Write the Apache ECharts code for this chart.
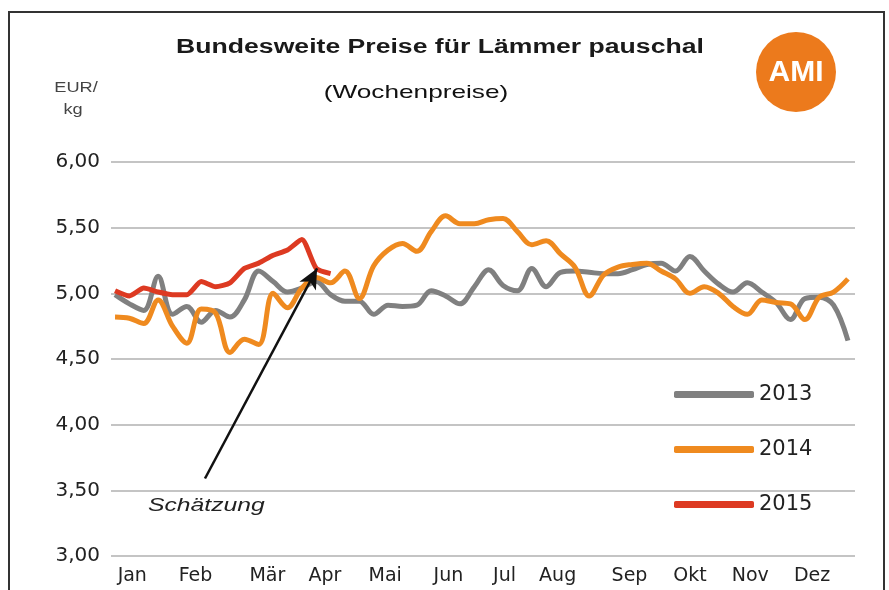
<!DOCTYPE html>
<html>
<head>
<meta charset="utf-8">
<script src="https://cdn.jsdelivr.net/npm/echarts@6/dist/echarts.min.js"></script>
<style>
  html, body { margin: 0; padding: 0; background: #fff; }
  #chart { width: 889px; height: 590px; }
</style>
</head>
<body>
<div id="chart"></div>
<script>
// calendar weeks (x positions)
const weeks = [1, 2, 3, 4, 5, 6, 7, 8, 9, 10, 11, 12, 13, 14, 15, 16, 17, 18, 19, 20, 21, 22, 23, 24, 25, 26,
  27, 28, 29, 30, 31, 32, 33, 34, 35, 36, 37, 38, 39, 40, 41, 42, 43, 44, 45, 46, 47, 48, 49, 50, 51, 52];

// month labels and their position in weeks
const months = ['Jan', 'Feb', 'Mär', 'Apr', 'Mai', 'Jun', 'Jul', 'Aug', 'Sep', 'Okt', 'Nov', 'Dez'];
const monthPos = [2.2, 6.6, 11.6, 15.6, 19.8, 24.2, 28.1, 31.8, 36.8, 41.0, 45.2, 49.5];

const y2013 = [4.99, 4.92, 4.87, 5.13, 4.84, 4.90, 4.78, 4.87, 4.82, 4.95, 5.17, 5.09, 5.01,
  5.04, 5.09, 4.99, 4.94, 4.94, 4.84, 4.91, 4.90, 4.91, 5.02, 4.98, 4.92, 5.05,
  5.18, 5.06, 5.02, 5.19, 5.05, 5.16, 5.17, 5.16, 5.15, 5.15, 5.18, 5.22, 5.23,
  5.17, 5.28, 5.17, 5.07, 5.01, 5.08, 5.01, 4.93, 4.80, 4.96, 4.97, 4.91, 4.64];

const y2014 = [4.82, 4.81, 4.77, 4.95, 4.75, 4.62, 4.88, 4.85, 4.55, 4.65, 4.61, 5.00, 4.89,
  5.04, 5.12, 5.08, 5.17, 4.96, 5.21, 5.33, 5.38, 5.32, 5.47, 5.59, 5.53, 5.53,
  5.56, 5.57, 5.47, 5.37, 5.40, 5.30, 5.20, 4.98, 5.14, 5.20, 5.22, 5.23, 5.17,
  5.11, 5.00, 5.05, 5.00, 4.90, 4.84, 4.95, 4.93, 4.92, 4.80, 4.97, 5.01, 5.11];

const y2015 = [5.02, 4.98, 5.04, 5.01, 4.99, 4.99, 5.09, 5.05, 5.08, 5.19, 5.23, 5.29, 5.33,
  5.41, 5.19, 5.15];

// arrow "Schätzung": from tail to tip, in [week, EUR/kg]
const arrowFrom = [7.26, 3.59];
const arrowTo = [15.06, 5.19];

const FONT = '"Liberation Sans", Arial, sans-serif';
const WIDE = '"DejaVu Sans", sans-serif';
const chart = echarts.init(document.getElementById('chart'), null, { renderer: 'canvas' });

const toPairs = (vals) => vals.map((v, i) => [weeks[i], v]);

// stretched text like the original (which is a horizontally scaled image)
const label = (x, y, text, font, sx, align, fill) => ({
  type: 'text',
  x, y,
  scaleX: sx,
  style: {
    x: 0, y: 0,
    text,
    font,
    fill: fill || '#111',
    textAlign: align || 'center',
    textVerticalAlign: 'middle',
  },
});

chart.setOption({
  backgroundColor: '#fff',
  animation: false,
  grid: { left: 111, right: 34, top: 162, bottom: 34 },
  legend: {
    orient: 'vertical',
    left: 669,
    top: 379,
    itemWidth: 80,
    itemHeight: 7,
    itemGap: 34,
    icon: 'roundRect',
    textStyle: { color: '#222', fontSize: 21, fontFamily: WIDE },
    data: ['2013', '2014', '2015'],
  },
  xAxis: {
    type: 'value',
    min: 0.72,
    max: 52.49,
    axisLine: { show: false },
    axisTick: { show: false },
    splitLine: { show: false },
    axisLabel: {
      customValues: monthPos,
      color: '#222',
      fontSize: 19,
      fontFamily: WIDE,
      margin: 11,
      formatter: (v) => {
        const i = monthPos.findIndex((p) => Math.abs(p - v) < 0.01);
        return i >= 0 ? months[i] : '';
      },
    },
  },
  yAxis: {
    type: 'value',
    min: 3,
    max: 6,
    interval: 0.5,
    axisLine: { show: false },
    axisTick: { show: false },
    splitLine: { lineStyle: { color: '#c4c4c4', width: 2 } },
    axisLabel: {
      color: '#222',
      fontSize: 20,
      fontFamily: WIDE,
      margin: 11,
      formatter: (v) => v.toFixed(2).replace('.', ','),
    },
  },
  series: [
    {
      name: '2013',
      type: 'line',
      data: toPairs(y2013),
      smooth: 0.35,
      symbol: 'none',
      lineStyle: { color: '#808080', width: 5 },
      itemStyle: { color: '#808080' },
    },
    {
      name: '2014',
      type: 'line',
      data: toPairs(y2014),
      smooth: 0.35,
      symbol: 'none',
      lineStyle: { color: '#ef8a1f', width: 5 },
      itemStyle: { color: '#ef8a1f' },
    },
    {
      name: '2015',
      type: 'line',
      data: toPairs(y2015),
      smooth: 0.2,
      symbol: 'none',
      lineStyle: { color: '#dd3a22', width: 5 },
      itemStyle: { color: '#dd3a22' },
      markLine: {
        silent: true,
        symbol: ['none', 'arrow'],
        symbolSize: [14, 20],
        lineStyle: { color: '#111', width: 2.5, type: 'solid' },
        label: { show: false },
        data: [[{ coord: arrowFrom }, { coord: arrowTo }]],
      },
    },
  ],
  graphic: [
    {
      type: 'rect',
      shape: { x: 9, y: 12, width: 875, height: 600 },
      style: { fill: 'none', stroke: '#333', lineWidth: 2 },
      z: -1,
    },
    label(440, 47, 'Bundesweite Preise für Lämmer pauschal', 'bold 20px ' + FONT, 1.33, 'center', '#1a1a1a'),
    label(416, 93, '(Wochenpreise)', '19px ' + FONT, 1.38),
    label(76, 88, 'EUR/', '14px ' + FONT, 1.3, 'center', '#444'),
    label(73, 110, 'kg', '14px ' + FONT, 1.3, 'center', '#444'),
    {
      type: 'circle',
      shape: { cx: 796, cy: 72, r: 40 },
      style: { fill: '#ec7a1c' },
    },
    label(796, 73, 'AMI', 'bold 30px ' + FONT, 1, 'center', '#fff'),
    label(148, 506, 'Schätzung', 'italic 19px ' + FONT, 1.3, 'left', '#222'),
  ],
});
</script>
</body>
</html>
